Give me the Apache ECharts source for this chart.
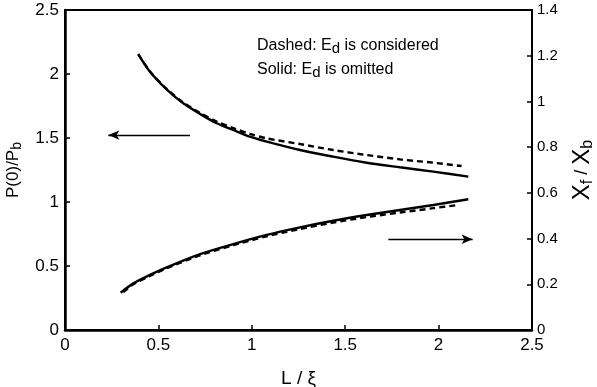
<!DOCTYPE html>
<html>
<head>
<meta charset="utf-8">
<script src="https://cdn.jsdelivr.net/npm/echarts@6/dist/echarts.min.js"></script>
<style>
  html, body { margin: 0; padding: 0; background: #fff; }
  #chart { width: 597px; height: 387px; }
</style>
</head>
<body>
<div id="chart"></div>
<script>
// P(0)/Pb versus L/ξ (left axis)
const pSolid = [
  [0.392, 2.156], [0.455, 2.018], [0.544, 1.880], [0.633, 1.771], [0.723, 1.688],
  [0.812, 1.615], [0.901, 1.563], [0.990, 1.510], [1.080, 1.471], [1.258, 1.406],
  [1.436, 1.354], [1.615, 1.307], [1.793, 1.271], [1.972, 1.237], [2.159, 1.198]
];
const pDashed = [
  [0.392, 2.156], [0.455, 2.020], [0.544, 1.884], [0.633, 1.777], [0.723, 1.696],
  [0.812, 1.628], [0.901, 1.578], [0.990, 1.532], [1.080, 1.497], [1.258, 1.453],
  [1.436, 1.406], [1.615, 1.367], [1.793, 1.333], [1.972, 1.307], [2.123, 1.281]
];
// Xf/Xb versus L/ξ (right axis)
const xSolid = [
  [0.298, 0.163], [0.366, 0.204], [0.455, 0.241], [0.544, 0.274], [0.723, 0.332],
  [0.901, 0.376], [1.080, 0.416], [1.258, 0.449], [1.436, 0.478], [1.615, 0.503],
  [1.793, 0.525], [1.972, 0.547], [2.159, 0.572]
];
const xDashed = [
  [0.312, 0.166], [0.366, 0.200], [0.455, 0.237], [0.544, 0.270], [0.723, 0.327],
  [0.901, 0.371], [1.080, 0.410], [1.258, 0.442], [1.436, 0.470], [1.615, 0.494],
  [1.793, 0.514], [1.972, 0.533], [2.105, 0.547]
];
// Arrows pointing to the axis each pair of curves belongs to
const leftArrow = [[0.669, 1.523], [0.232, 1.523]];
const rightArrow = [[1.731, 0.397], [2.182, 0.397]];

const FONT = '"Liberation Sans", Arial, Helvetica, sans-serif';
const chart = echarts.init(document.getElementById('chart'), null, { renderer: 'canvas' });

const lineCommon = {
  type: 'line', showSymbol: false, smooth: 0.3, silent: true, z: 3
};
function arrowMark(pts) {
  return {
    silent: true,
    symbol: ['none', 'arrow'],
    symbolSize: [7, 11],
    label: { show: false },
    lineStyle: { color: '#000', width: 1.3, type: 'solid' },
    data: [[{ coord: pts[0] }, { coord: pts[1] }]]
  };
}

chart.setOption({
  animation: false,
  backgroundColor: '#fff',
  textStyle: { fontFamily: FONT, color: '#000' },
  grid: {
    left: 65, right: 65, top: 10, bottom: 57,
    containLabel: false, outerBoundsMode: 'none',
    show: true, borderColor: '#000', borderWidth: 2
  },
  xAxis: {
    type: 'value', min: 0, max: 2.5, interval: 0.5,
    axisLine: { show: true, lineStyle: { color: '#000', width: 2.5 } },
    axisTick: { show: true, inside: true, length: 5, lineStyle: { color: '#000', width: 1.5 } },
    axisLabel: { color: '#000', fontSize: 17, fontFamily: FONT, margin: 7 },
    splitLine: { show: false },
    name: 'L / ξ', nameLocation: 'middle', nameGap: 39,
    nameTextStyle: { color: '#000', fontSize: 19, fontFamily: FONT }
  },
  yAxis: [
    {
      type: 'value', position: 'left', min: 0, max: 2.5, interval: 0.5,
      axisLine: { show: true, lineStyle: { color: '#000', width: 2.5 } },
      axisTick: { show: true, inside: true, length: 5, lineStyle: { color: '#000', width: 1.5 } },
      axisLabel: { color: '#000', fontSize: 17, fontFamily: FONT, margin: 6 },
      splitLine: { show: false },
      name: '{m|P(0)/P}{s|b}', nameLocation: 'middle', nameRotate: 90, nameGap: 36,
      nameTextStyle: {
        color: '#000', fontFamily: FONT, fontSize: 17,
        rich: {
          m: { fontSize: 17, fontFamily: FONT, color: '#000', lineHeight: 22 },
          s: { fontSize: 14, fontFamily: FONT, color: '#000', lineHeight: 14, verticalAlign: 'bottom' }
        }
      }
    },
    {
      type: 'value', position: 'right', min: 0, max: 1.4, interval: 0.2,
      axisLine: { show: true, lineStyle: { color: '#000', width: 2 } },
      axisTick: { show: true, inside: true, length: 5, lineStyle: { color: '#000', width: 1.5 } },
      axisLabel: { color: '#000', fontSize: 15, fontFamily: FONT, margin: 5 },
      splitLine: { show: false },
      name: '{m|X}{s|f}{d| / }{m|X}{s|b}', nameLocation: 'middle', nameRotate: 90, nameGap: 36,
      nameTextStyle: {
        color: '#000', fontFamily: FONT, fontSize: 22,
        rich: {
          m: { fontSize: 24, fontFamily: FONT, color: '#000', lineHeight: 28 },
          d: { fontSize: 18, fontFamily: FONT, color: '#000', lineHeight: 28 },
          s: { fontSize: 16, fontFamily: FONT, color: '#000', lineHeight: 14, verticalAlign: 'bottom' }
        }
      }
    }
  ],
  series: [
    Object.assign({}, lineCommon, {
      name: 'P solid', yAxisIndex: 0, data: pSolid,
      lineStyle: { color: '#000', width: 2.4, type: 'solid' },
      markLine: arrowMark(leftArrow)
    }),
    Object.assign({}, lineCommon, {
      name: 'P dashed', yAxisIndex: 0, data: pDashed,
      lineStyle: { color: '#000', width: 2.4, type: [6, 4] }
    }),
    Object.assign({}, lineCommon, {
      name: 'X solid', yAxisIndex: 1, data: xSolid,
      lineStyle: { color: '#000', width: 2.4, type: 'solid' },
      markLine: arrowMark(rightArrow)
    }),
    Object.assign({}, lineCommon, {
      name: 'X dashed', yAxisIndex: 1, data: xDashed,
      lineStyle: { color: '#000', width: 2.4, type: [6, 4] }
    })
  ],
  graphic: [
    {
      type: 'text', left: 257, top: 38, silent: true,
      style: {
        text: '{m|Dashed: E}{s|d}{m| is considered}',
        rich: {
          m: { fontSize: 16, fontFamily: FONT, fill: '#000', lineHeight: 20 },
          s: { fontSize: 15, fontFamily: FONT, fill: '#000', lineHeight: 12, verticalAlign: 'bottom' }
        }
      }
    },
    {
      type: 'text', left: 257, top: 62, silent: true,
      style: {
        text: '{m|Solid: E}{s|d}{m| is omitted}',
        rich: {
          m: { fontSize: 16, fontFamily: FONT, fill: '#000', lineHeight: 20 },
          s: { fontSize: 15, fontFamily: FONT, fill: '#000', lineHeight: 12, verticalAlign: 'bottom' }
        }
      }
    }
  ]
});
</script>
</body>
</html>
